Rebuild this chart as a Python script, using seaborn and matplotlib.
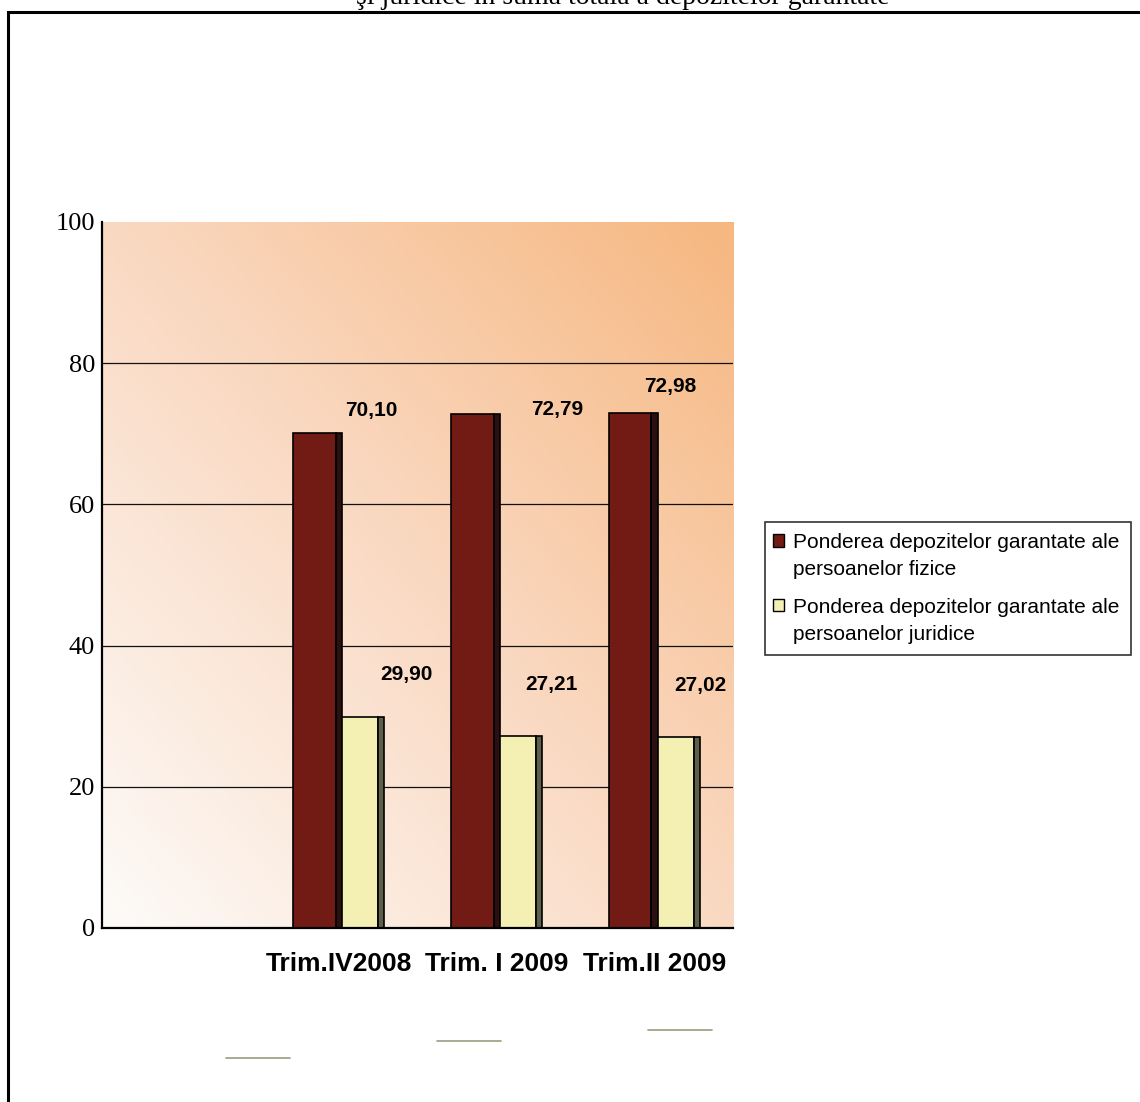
import numpy as np
import pandas as pd
import matplotlib
matplotlib.use("Agg")
import matplotlib.pyplot as plt
import seaborn as sns
from matplotlib.colors import LinearSegmentedColormap, to_rgba
from matplotlib.patches import Rectangle
from matplotlib.lines import Line2D
from matplotlib.legend_handler import HandlerPatch

# ---- data -------------------------------------------------------------
quarters = ["Trim.IV2008", "Trim. I 2009", "Trim.II 2009"]
fizice = [70.10, 72.79, 72.98]
juridice = [29.90, 27.21, 27.02]
series_names = [
    "Ponderea depozitelor garantate ale\npersoanelor fizice",
    "Ponderea depozitelor garantate ale\npersoanelor juridice",
]
y_ticks = [0, 20, 40, 60, 80, 100]
title_line = "şi juridice în suma totală a depozitelor garantate"

# category slots: a leading empty slot, then the quarters
order = [" "] + quarters

# value-label offsets (pixels, relative to the top centre of each bar)
fizice_label_offsets = [(55, 23), (84, 5), (39, 26)]
juridice_label_offsets = [(45, 42), (32, 51), (23, 52)]

# ---- style ------------------------------------------------------------
W, H = 1140, 1102
DARK, DARK_SIDE = "#721a14", "#2a1010"
LIGHT, LIGHT_SIDE = "#f4efb2", "#5e5f4a"

sns.set_theme(style="white")
plt.rcParams["font.family"] = ["Liberation Sans", "DejaVu Sans"]
for key in ("text.color", "axes.labelcolor", "xtick.color", "ytick.color"):
    plt.rcParams[key] = "black"

fig = plt.figure(figsize=(W / 100, H / 100), dpi=100)
fig.patch.set_facecolor("white")
ax = fig.add_axes([102 / W, 1 - 928 / H, (733 - 102) / W, (928 - 222) / H])

df = pd.concat([
    pd.DataFrame({"slot": quarters, "series": series_names[0], "value": fizice}),
    pd.DataFrame({"slot": quarters, "series": series_names[1], "value": juridice}),
])

# diagonal gradient behind the plot area
cmap = LinearSegmentedColormap.from_list(
    "bg", [(0.0, "#fdfbf9"), (0.5, "#fad9c2"), (1.0, "#f6b780")])
gu, gv = np.meshgrid(np.linspace(0, 1, 300), np.linspace(0, 1, 300))
ax.imshow((gu + gv) / 2, cmap=cmap, origin="lower", aspect="auto",
          extent=(-0.5, len(order) - 0.5, 0, 100), zorder=0, vmin=0, vmax=1)

for yv in y_ticks[1:-1]:
    ax.axhline(yv, color="#111111", lw=0.9, zorder=0.5)

sns.barplot(data=df, x="slot", y="value", hue="series", order=order,
            hue_order=series_names, palette=[DARK, LIGHT], saturation=1,
            width=0.577, dodge=True, edgecolor="black", linewidth=1.2,
            legend=False, ax=ax)

# give each bar a shaded side face
dark_rgba = to_rgba(DARK)
bars = [p for p in ax.patches if isinstance(p, Rectangle) and p.get_height() > 0]
dark_bars, light_bars = [], []
for p in bars:
    if np.allclose(p.get_facecolor(), dark_rgba, atol=0.02):
        dark_bars.append(p)
    else:
        light_bars.append(p)
dark_bars.sort(key=lambda p: p.get_x())
light_bars.sort(key=lambda p: p.get_x())


def add_side(p, front_frac, side_frac, side_color, z):
    x0, w, h = p.get_x(), p.get_width(), p.get_height()
    p.set_width(w * front_frac)
    p.set_zorder(z)
    ax.add_patch(Rectangle((x0 + w * front_frac, 0), w * side_frac, h,
                           facecolor=side_color, edgecolor="black", lw=1.2,
                           zorder=z + 0.2))
    return x0 + w / 2


for bars_, vals, offs, shape in (
        (dark_bars, fizice, fizice_label_offsets, (0.94, 0.14, DARK_SIDE, 3)),
        (light_bars, juridice, juridice_label_offsets, (0.87, 0.13, LIGHT_SIDE, 2))):
    for p, v, (dx, dy) in zip(bars_, vals, offs):
        xc = add_side(p, *shape)
        ax.annotate(f"{v:.2f}".replace(".", ","), xy=(xc, v), xytext=(dx, dy),
                    textcoords="offset pixels", ha="center", va="center",
                    fontsize=15, fontweight="bold", color="black", zorder=6)

# axes
ax.set_xlim(-0.5, len(order) - 0.5)
ax.set_ylim(0, 100)
ax.set_xlabel("")
ax.set_ylabel("")
ax.set_yticks(y_ticks)
ax.set_yticklabels([str(t) for t in y_ticks], fontfamily="Liberation Serif",
                   fontsize=19)
ax.tick_params(axis="y", length=0, pad=5)

ax.set_xticks(np.arange(len(order)) + 0.5)
ax.set_xticklabels([])
ax.set_xticks(np.arange(len(order)), labels=order, minor=True)
ax.tick_params(axis="x", which="major", direction="out", length=6,
               width=1.2, color="black")
ax.tick_params(axis="x", which="minor", length=0, pad=17)
for lab in ax.get_xticklabels(minor=True):
    lab.set_fontsize(19)
    lab.set_fontweight("bold")
    lab.set_color("black")

for side in ("top", "right"):
    ax.spines[side].set_visible(False)
for side in ("left", "bottom"):
    ax.spines[side].set_color("black")
    ax.spines[side].set_linewidth(1.6)
    ax.spines[side].set_zorder(7)

# legend: square swatch level with the first line of each two-line label
LEG_FS = 15


def first_line_swatch(legend, orig_handle, xdescent, ydescent, width, height,
                      fontsize):
    return Rectangle((-xdescent - 2.5, -ydescent + fontsize * 0.76),
                     width, height)


handles = [Rectangle((0, 0), 1, 1, facecolor=c, edgecolor="black", lw=1.0)
           for c in (DARK, LIGHT)]
leg = fig.legend(handles, series_names, loc="upper left",
                 bbox_to_anchor=(765 / W, 1 - 522 / H), fontsize=LEG_FS,
                 frameon=True, fancybox=False, shadow=False,
                 handlelength=0.55, handleheight=0.55, handletextpad=0.24,
                 labelspacing=0.89, borderpad=0.55, borderaxespad=0,
                 handler_map={Rectangle: HandlerPatch(patch_func=first_line_swatch)})
leg.get_frame().set_edgecolor("black")
leg.get_frame().set_linewidth(1.2)
for t in leg.get_texts():
    t.set_linespacing(1.53)
    t.set_color("black")

# title line (its upper part falls above the page)
fig.text(623 / W, 1 - 4.5 / H, title_line, ha="center", va="baseline",
         fontfamily="Liberation Serif", fontsize=20, color="black")

# page frame
fig.add_artist(Rectangle((8 / W, -0.05), 1.2, 1 - 12 / H + 0.05,
                         transform=fig.transFigure, fill=False,
                         edgecolor="black", lw=2.2))

# short connector strokes under the axis
for x0, x1, yy in ((226, 290, 1058), (437, 501, 1041), (648, 712, 1030)):
    fig.add_artist(Line2D([x0 / W, x1 / W], [1 - yy / H] * 2,
                          transform=fig.transFigure, color="#9b9b82", lw=1.2))

fig.savefig("out.png", dpi=100)
